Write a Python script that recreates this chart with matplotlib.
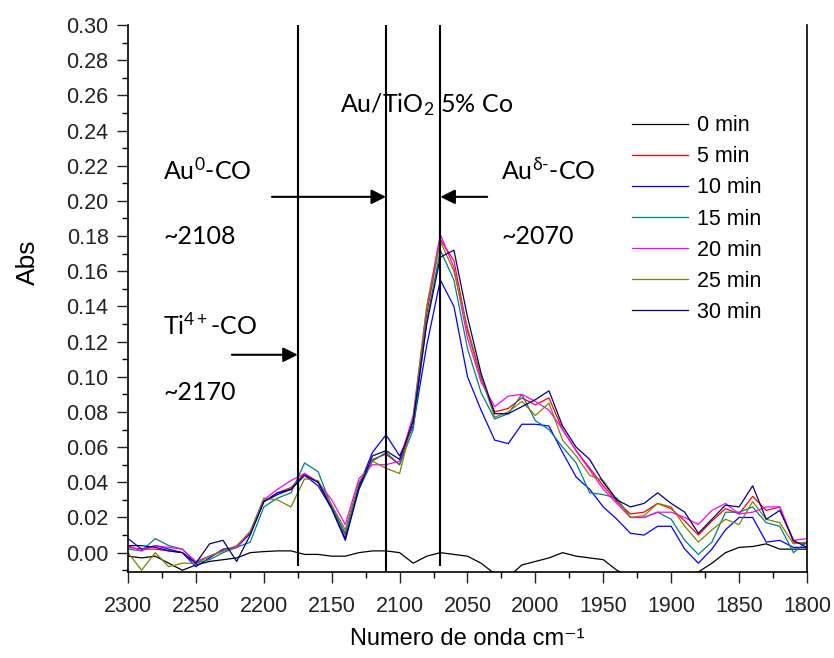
import numpy as np
import matplotlib
matplotlib.use('Agg')
import matplotlib.pyplot as plt
from matplotlib.ticker import MultipleLocator, FormatStrFormatter

plt.rcParams['font.family'] = ['Liberation Sans', 'DejaVu Sans']
plt.rcParams['mathtext.fontset'] = 'custom'
plt.rcParams['mathtext.rm'] = 'Lato'
plt.rcParams['mathtext.it'] = 'Lato:italic'

#--------------------------------------------------------------------------------------------------
# wavenumber grid, cm-1
wn = np.arange(2300, 1799, -10)

abs_0 = [-0.002, -0.003, -0.002, -0.006, -0.010, -0.007, -0.005, -0.004, -0.003, 0.000,
         0.0006, 0.001, 0.001, -0.001, -0.001, -0.002, -0.002, 0.000, 0.001, 0.001,
         0.000, -0.006, -0.002, 0.000, -0.001, -0.002, -0.006, -0.012, -0.014, -0.007,
         -0.005, -0.003, 0.000, -0.002, -0.003, -0.004, -0.010, -0.014, -0.016, -0.016,
         -0.015, -0.013, -0.011, -0.006, 0.000, 0.003, 0.0035, 0.005, 0.002, 0.002,
         0.002]

abs_5 = [0.003, 0.002, 0.002, 0.001, 0.000, -0.006, -0.002, 0.001, 0.003, 0.011,
         0.029, 0.034, 0.037, 0.045, 0.040, 0.027, 0.010, 0.038, 0.053, 0.056,
         0.050, 0.075, 0.136, 0.178, 0.166, 0.126, 0.099, 0.080, 0.082, 0.088,
         0.084, 0.088, 0.070, 0.058, 0.048, 0.038, 0.029, 0.022, 0.023, 0.028,
         0.025, 0.018, 0.010, 0.018, 0.025, 0.022, 0.032, 0.024, 0.026, 0.006,
         0.005]

abs_10 = [0.008, 0.002, 0.004, 0.002, 0.000, -0.008, -0.003, 0.002, 0.003, 0.011,
          0.029, 0.034, 0.036, 0.044, 0.038, 0.025, 0.008, 0.038, 0.057, 0.067,
          0.055, 0.072, 0.118, 0.155, 0.140, 0.100, 0.081, 0.064, 0.062, 0.073,
          0.073, 0.072, 0.057, 0.043, 0.036, 0.026, 0.019, 0.011, 0.010, 0.015,
          0.015, 0.002, -0.006, 0.002, 0.013, 0.020, 0.020, 0.006, 0.007, 0.003,
          0.003]

abs_15 = [0.002, 0.001, 0.008, 0.004, 0.002, -0.006, -0.004, 0.000, 0.003, 0.006,
          0.026, 0.031, 0.034, 0.051, 0.046, 0.026, 0.011, 0.036, 0.052, 0.057,
          0.050, 0.070, 0.132, 0.172, 0.155, 0.116, 0.091, 0.076, 0.079, 0.090,
          0.075, 0.070, 0.060, 0.051, 0.034, 0.033, 0.031, 0.020, 0.020, 0.023,
          0.019, 0.007, -0.001, 0.006, 0.023, 0.023, 0.026, 0.017, 0.015, 0.000,
          0.006]

abs_20 = [0.004, 0.001, 0.004, 0.003, 0.002, -0.005, -0.002, 0.001, 0.003, 0.012,
          0.030, 0.036, 0.041, 0.045, 0.040, 0.030, 0.016, 0.042, 0.050, 0.050,
          0.052, 0.078, 0.140, 0.181, 0.162, 0.122, 0.097, 0.083, 0.089, 0.090,
          0.086, 0.081, 0.070, 0.058, 0.047, 0.036, 0.028, 0.020, 0.020, 0.023,
          0.023, 0.020, 0.016, 0.024, 0.028, 0.022, 0.023, 0.026, 0.026, 0.007,
          0.008]

abs_25 = [0.000, -0.010, 0.000, -0.008, -0.006, -0.006, -0.002, 0.001, 0.004, 0.012,
          0.031, 0.030, 0.026, 0.042, 0.041, 0.027, 0.013, 0.040, 0.052, 0.048,
          0.045, 0.076, 0.140, 0.177, 0.160, 0.128, 0.100, 0.077, 0.080, 0.086,
          0.078, 0.085, 0.064, 0.055, 0.044, 0.041, 0.030, 0.020, 0.021, 0.028,
          0.026, 0.015, 0.006, 0.013, 0.019, 0.016, 0.029, 0.019, 0.017, 0.005,
          0.006]

abs_30 = [0.004, 0.004, 0.003, 0.001, 0.000, -0.006, 0.005, 0.007, -0.005, 0.010,
          0.029, 0.033, 0.036, 0.044, 0.040, 0.025, 0.007, 0.036, 0.055, 0.058,
          0.053, 0.075, 0.130, 0.168, 0.172, 0.134, 0.102, 0.079, 0.079, 0.083,
          0.087, 0.092, 0.072, 0.060, 0.053, 0.040, 0.030, 0.026, 0.028, 0.034,
          0.028, 0.023, 0.011, 0.019, 0.027, 0.026, 0.038, 0.019, 0.024, 0.007,
          0.003]

series = [abs_0, abs_5, abs_10, abs_15, abs_20, abs_25, abs_30]
labels = ['0 min', '5 min', '10 min', '15 min', '20 min', '25 min', '30 min']
colors = ['black', '#ff0000', '#0000ff', '#008080', '#ff00ff', '#808000', '#000080']

# band positions, cm-1
bands = [2175, 2110, 2070]
band_bottom = [-0.0075, -0.011, -0.0075]

#--------------------------------------------------------------------------------------------------

fig = plt.figure(figsize=(8.34, 6.58), dpi=100)
ax = fig.add_axes([0.1535, 0.1307, 0.8141, 0.8313])

for y, lab, c in zip(series, labels, colors):
    ax.plot(wn, y, color=c, lw=0.9, label=lab)

ax.vlines(bands, band_bottom, 0.30, colors='black', lw=1.5)

ax.set_xlim(2300, 1800)
ax.set_ylim(-0.011, 0.30)
ax.xaxis.set_major_locator(MultipleLocator(50))
ax.xaxis.set_minor_locator(MultipleLocator(25))
ax.yaxis.set_major_locator(MultipleLocator(0.02))
ax.yaxis.set_minor_locator(MultipleLocator(0.01))
ax.yaxis.set_major_formatter(FormatStrFormatter('%.2f'))
ax.tick_params(which='major', direction='out', length=8, width=1, labelsize=15.5, colors='#222222')
ax.tick_params(which='minor', direction='out', length=4, width=1)
ax.tick_params(axis='y', which='major', pad=6)
ax.tick_params(axis='x', which='major', pad=9)
ax.spines['top'].set_visible(False)
for s in ['left', 'bottom', 'right']:
    ax.spines[s].set_linewidth(1.2)

ax.set_xlabel('Numero de onda cm⁻¹', fontsize=17)
ax.set_ylabel('Abs', fontsize=19)
ax.xaxis.set_label_coords(0.5, -0.102)
ax.yaxis.set_label_coords(-0.129, 0.567)

# annotations
tfont = dict(fontsize=18, family='Lato', va='center', ha='left')
ax.text(2144, 0.2545, r'Au/TiO$_{\mathrm{2}}$ 5% Co', **tfont)
ax.text(2274, 0.2176, r'Au$^{\mathrm{0}}$-CO', **tfont)
ax.text(2274, 0.1795, '~2108', **tfont)
ax.text(2274, 0.1295, r'Ti$^{\mathrm{4+}}$-CO', **tfont)
ax.text(2274, 0.0909, '~2170', **tfont)
ax.text(2025, 0.2176, r'Au$^{\mathrm{\delta\text{-}}}$-CO', **tfont)
ax.text(2025, 0.1795, '~2070', **tfont)

arr = dict(arrowstyle='-|>', color='black', lw=1.5, mutation_scale=22, shrinkA=0, shrinkB=0)
ax.annotate('', xy=(2110, 0.2023), xytext=(2194, 0.2023), arrowprops=arr)
ax.annotate('', xy=(2070, 0.2023), xytext=(2035.5, 0.2023), arrowprops=arr)
ax.annotate('', xy=(2175, 0.1125), xytext=(2223.5, 0.1125), arrowprops=arr)

ax.legend(loc='upper left', bbox_to_anchor=(0.742, 0.835), frameon=False, fontsize=15.5,
          handlelength=2.6, handletextpad=0.45, labelspacing=0.47, borderpad=0, borderaxespad=0)

plt.savefig('out.png', dpi=100)
